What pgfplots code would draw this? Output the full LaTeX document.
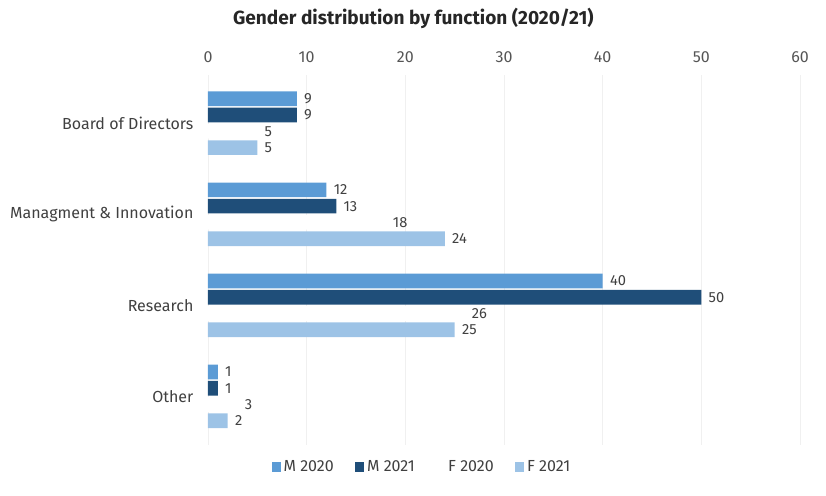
\documentclass[border=0pt]{standalone}
\usepackage{fontspec}
\setmainfont{Fira Sans}
\usepackage{pgfplots}
\pgfplotsset{compat=1.18}
\definecolor{m20}{HTML}{5B9BD5}
\definecolor{m21}{HTML}{1F4E79}
\definecolor{f21}{HTML}{9DC3E6}
\definecolor{txt}{HTML}{404040}
\definecolor{tick}{HTML}{555555}
\begin{document}
\begin{tikzpicture}
\path[use as bounding box] (0pt,0pt) rectangle (619.5pt,372pt);
\node[font=\bfseries\fontsize{14.3}{16}\selectfont, text=black!85] at (310pt,358.5pt) {Gender distribution by function (2020/21)};
\begin{axis}[
  at={(156pt,38.5pt)}, anchor=south west,
  width=444pt, height=277.3pt, scale only axis,
  xbar=1.2pt, bar width=11pt,
  xmin=0, xmax=60, ymin=-0.53, ymax=3.53,
  y dir=reverse,
  ytick={0,1,2,3},
  yticklabels={Board of Directors, Managment \& Innovation, Research, Other},
  xtick={0,10,...,60},
  xticklabel pos=upper,
  axis line style={draw=none},
  major tick style={draw=none},
  xmajorgrids, grid style={black!6},
  /pgf/number format/assume math mode=true,
  tick label style={font=\fontsize{12}{14}\selectfont},
  xticklabel style={text=tick, inner sep=0pt, yshift=9pt},
  yticklabel style={text=txt, inner sep=0pt, xshift=-6.5pt},
  nodes near coords,
  every node near coord/.append style={font=\fontsize{11}{13}\selectfont, text=txt, xshift=2pt},
  reverse legend,
  legend style={at={(0.362,-0.06)}, anchor=center, draw=none, legend columns=4,
    font=\fontsize{12}{14}\selectfont, text=txt,
    /tikz/every even column/.append style={column sep=14pt}},
  legend image code/.code={\fill[#1] (0pt,-3.5pt) rectangle (7pt,3.5pt);},
]
\addplot[fill=f21, draw=none] coordinates {(5,0) (24,1) (25,2) (2,3)};
\addplot[fill=white, draw=none] coordinates {(5,0) (18,1) (26,2) (3,3)};
\addplot[fill=m21, draw=none] coordinates {(9,0) (13,1) (50,2) (1,3)};
\addplot[fill=m20, draw=none] coordinates {(9,0) (12,1) (40,2) (1,3)};
\legend{F 2021, F 2020, M 2021, M 2020}
\end{axis}
\end{tikzpicture}
\end{document}
